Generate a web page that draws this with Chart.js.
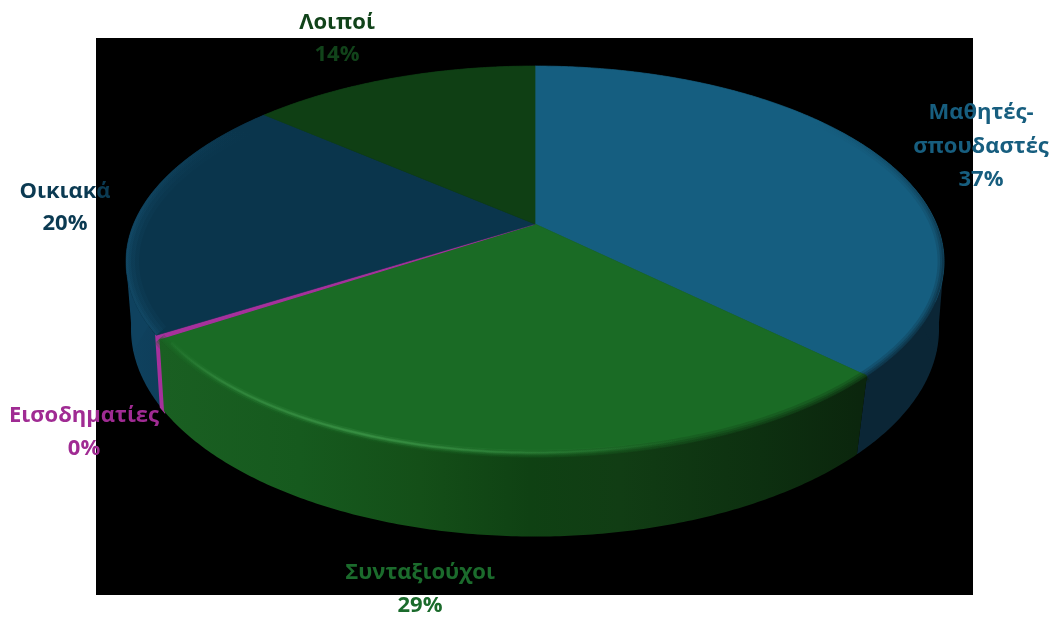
<!DOCTYPE html>
<html><head><meta charset="utf-8">
<style>html,body{margin:0;padding:0;background:#fff}canvas{display:block}</style>
<script src="https://cdn.jsdelivr.net/npm/chart.js@4"></script>
</head><body><canvas id="c" width="1054" height="617"></canvas>
<script>
const categories = ['Μαθητές-σπουδαστές','Συνταξιούχοι','Εισοδηματίες','Οικιακά','Λοιποί'];
const shares = [37.3, 28.5, 0.3, 20.2, 13.7];
const percentLabels = ['37%','29%','0%','20%','14%'];
const labelLines = [['Μαθητές-','σπουδαστές','37%'],['Συνταξιούχοι','29%'],['Εισοδηματίες','0%'],['Οικιακά','20%'],['Λοιποί','14%']];
const sliceColors = ['#155E80','#1A6B25','#A6319C','#0A354C','#0F3F14'];
const textColors = ['#175E7F','#1B6B2C','#A02B93','#0B3A52','#11431A'];
// layout of the drawing
const labelPos = [[981,[113,147,180]],[420,[573,606]],[84,[416,449]],[65,[192,224]],[337,[23,55]]];
const panel = {x:96,y:38,w:877,h:557};
const K = 0.192;
const topDisc = {cx:535,y0:224,R:401.4,H:188.3};
const baseDisc = {cx:535,y0:289,R:396.5,H:200};
const wallStops = [
  [[130,'#0B2636'],[940,'#0B2636']],
  [[160,'#1A5F22'],[300,'#165A1E'],[420,'#144F18'],[530,'#0F4113'],[620,'#113D14'],[760,'#0D3010'],[860,'#0B260D']],
  [[150,'#A6319C'],[170,'#A6319C']],
  [[125,'#0F425F'],[200,'#0D3A55']],
  [[200,'#0D2F14'],[540,'#0D2F14']]
];
function project(d,u,v){const w=1-K*v;return [d.cx+d.R*u/w,d.y0+d.H*v/w];}
function arcPts(d,a0,a1,f){const n=Math.max(2,Math.ceil(Math.abs(a1-a0)/0.01));const p=[];
  for(let i=0;i<=n;i++){const a=a0+(a1-a0)*i/n;p.push(project(d,f*Math.cos(a),f*Math.sin(a)));}return p;}
function basePts(a0,a1){const n=Math.max(2,Math.ceil(Math.abs(a1-a0)/0.01));const p=[];
  for(let i=0;i<=n;i++){let a=a0+(a1-a0)*i/n;a+=0.03*Math.max(0,Math.cos(a));p.push(project(baseDisc,Math.cos(a),Math.sin(a)));}return p;}
function hGrad(ctx,stops){const x0=stops[0][0],x1=stops[stops.length-1][0];
  const g=ctx.createLinearGradient(x0,0,x1,0);stops.forEach(s=>g.addColorStop((s[0]-x0)/(x1-x0),s[1]));return g;}
function strokePts(ctx,p){ctx.beginPath();p.forEach((q,i)=>i?ctx.lineTo(q[0],q[1]):ctx.moveTo(q[0],q[1]));ctx.stroke();}
function fillPts(ctx,p,style){ctx.beginPath();p.forEach((q,j)=>j?ctx.lineTo(q[0],q[1]):ctx.moveTo(q[0],q[1]));ctx.closePath();ctx.fillStyle=style;ctx.fill();}
function addRing(ctx,d){arcPts(d,0,Math.PI*2,1).forEach((q,i)=>i?ctx.lineTo(q[0],q[1]):ctx.moveTo(q[0],q[1]));ctx.closePath();}

const pie3d = {
  id:'pie3d',
  beforeDraw(chart){const c=chart.ctx;c.save();c.fillStyle='#000';c.fillRect(panel.x,panel.y,panel.w,panel.h);c.restore();},
  beforeDatasetsDraw(chart){
    const ctx=chart.ctx, arcs=chart.getDatasetMeta(0).data;
    ctx.save();
    [4,3,0,2,1].forEach(i=>{const a=arcs[i];
      let s=a.startAngle,e=a.endAngle;
      const top=arcPts(topDisc,s,e,1), base=basePts(s,e).reverse();
      fillPts(ctx,top.concat(base),hGrad(ctx,wallStops[i]));
      if(i===2){ctx.strokeStyle='#A6319C';ctx.lineWidth=2;ctx.stroke();}
    });
    // straight outer silhouette of the wall at both sides
    const ext=Math.asin(K), tan=0.3;
    [[1,wallStops[0][0][1]],[-1,wallStops[3][0][1]]].forEach(([sgn,col])=>{
      const T=project(topDisc,sgn*Math.cos(ext),Math.sin(ext));
      const B=project(baseDisc,sgn*Math.cos(tan),Math.sin(tan));
      fillPts(ctx,[T,B,[T[0]-sgn*60,T[1]]],col);
    });
    ctx.restore();
    const first=arcs[0];
    ctx.arc=function(x,y,r,a0,a1){
      const n=Math.max(2,Math.ceil(Math.abs(a1-a0)/0.01));
      for(let i=0;i<=n;i++){const a=a0+(a1-a0)*i/n;
        const u=(x+r*Math.cos(a)-first.x)/first.outerRadius,v=(y+r*Math.sin(a)-first.y)/first.outerRadius;
        const q=project(topDisc,u,v);CanvasRenderingContext2D.prototype.lineTo.call(ctx,q[0],q[1]);}
    };
    ctx.lineTo=function(x,y){
      const u=(x-first.x)/first.outerRadius,v=(y-first.y)/first.outerRadius;
      const q=project(topDisc,u,v);CanvasRenderingContext2D.prototype.lineTo.call(ctx,q[0],q[1]);
    };
  },
  afterDatasetsDraw(chart){
    const ctx=chart.ctx, arcs=chart.getDatasetMeta(0).data;
    delete ctx.arc; delete ctx.lineTo;
    ctx.save();ctx.lineCap='butt';
    // soft edge between the top face and the wall, kept off the black panel
    ctx.beginPath();addRing(ctx,topDisc);addRing(ctx,baseDisc);ctx.clip();
    {const a=arcs[1];const p=arcPts(topDisc,a.startAngle,a.endAngle,1);
      ctx.strokeStyle=hGrad(ctx,wallStops[1]);
      [[13,.22],[8,.3],[4,.4]].forEach(l=>{ctx.lineWidth=l[0];ctx.globalAlpha=l[1];strokePts(ctx,p);});}
    {const a=arcs[0];const p=arcPts(topDisc,-0.75,a.endAngle,1);
      const g=ctx.createLinearGradient(0,120,0,270);g.addColorStop(0,'rgba(11,38,54,0)');g.addColorStop(1,'rgba(11,38,54,1)');
      ctx.strokeStyle=g;[[13,.22],[8,.3],[4,.4]].forEach(l=>{ctx.lineWidth=l[0];ctx.globalAlpha=l[1];strokePts(ctx,p);});}
    // highlight on the bevel of the front slice
    {const a=arcs[1];const p=arcPts(topDisc,a.startAngle+0.15,a.endAngle-0.03,0.985);
      const g=ctx.createLinearGradient(160,0,680,0);
      g.addColorStop(0,'rgba(60,150,72,0)');g.addColorStop(.12,'rgba(60,150,72,.6)');g.addColorStop(.4,'rgba(60,150,72,1)');g.addColorStop(.7,'rgba(60,150,72,.45)');g.addColorStop(1,'rgba(60,150,72,0)');
      ctx.strokeStyle=g;[[6,.25],[3,.45],[1.5,.6]].forEach(l=>{ctx.lineWidth=l[0];ctx.globalAlpha=l[1];strokePts(ctx,p);});}
    ctx.restore();
    // fringe that stays on the top face
    ctx.save();ctx.beginPath();addRing(ctx,topDisc);ctx.clip();
    {const a=arcs[3];const s=a.startAngle,e=Math.min(a.endAngle,s+1.2);const p=arcPts(topDisc,s,e,1);
      const g=ctx.createLinearGradient(0,130,0,230);g.addColorStop(0,'rgba(24,88,122,0)');g.addColorStop(1,'rgba(24,88,122,1)');
      ctx.strokeStyle=g;[[26,.1],[18,.13],[10,.18],[5,.2]].forEach(l=>{ctx.lineWidth=l[0];ctx.globalAlpha=l[1];strokePts(ctx,p);});}
    ctx.restore();
  },
  afterDraw(chart){
    const ctx=chart.ctx;ctx.save();ctx.textAlign='center';ctx.textBaseline='middle';
    ctx.font='bold 22px "Open Sans"';
    labelLines.forEach((lines,i)=>{ctx.fillStyle=textColors[i];
      lines.forEach((t,j)=>ctx.fillText(t,labelPos[i][0],labelPos[i][1][j]));});
    ctx.restore();
  }
};
new Chart(document.getElementById('c'),{
  type:'pie',
  data:{labels:categories,datasets:[{data:shares,backgroundColor:sliceColors,borderColor:sliceColors,borderWidth:[.7,.7,1.2,.7,.7]}]},
  options:{responsive:false,animation:false,layout:{padding:0},plugins:{legend:{display:false},tooltip:{enabled:false}}},
  plugins:[pie3d]
});
</script></body></html>
